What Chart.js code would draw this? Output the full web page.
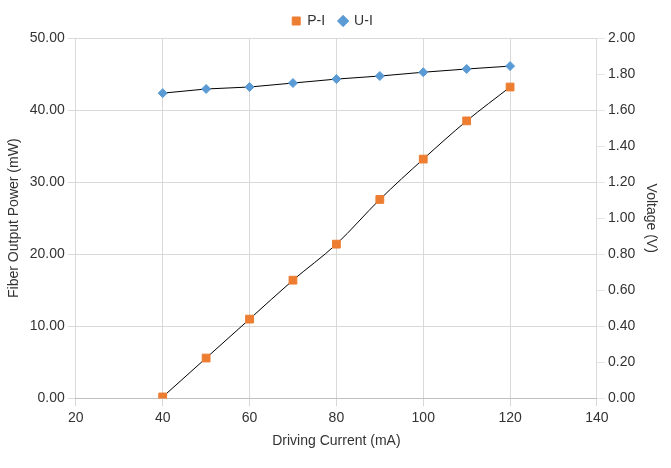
<!DOCTYPE html>
<html>
<head>
<script src="https://cdn.jsdelivr.net/npm/chart.js@4"></script>
<style>
  body { margin: 0; background: #fff; }
  #wrap { width: 671px; height: 468px; }
</style>
</head>
<body>
<div id="wrap"><canvas id="c"></canvas></div>
<script>
const current = [40, 50, 60, 70, 80, 90, 100, 110, 120];
const power = [0.2, 5.6, 11.0, 16.4, 21.4, 27.6, 33.2, 38.5, 43.2];
const voltage = [1.694, 1.717, 1.728, 1.750, 1.772, 1.789, 1.810, 1.828, 1.844];

const pts = (ys) => current.map((x, i) => ({ x: x, y: ys[i] }));
const font = { family: 'Arial, "Liberation Sans", sans-serif', size: 14 };

new Chart(document.getElementById("c"), {
  type: "line",
  data: {
    datasets: [{
      label: "P-I",
      data: pts(power),
      yAxisID: "y",
      borderColor: "#000",
      borderWidth: 1,
      backgroundColor: "#ed7d31",
      pointBackgroundColor: "#ed7d31",
      pointBorderColor: "#ed7d31",
      pointStyle: "rect",
      pointRadius: 5.5,
      cubicInterpolationMode: "monotone"
    }, {
      label: "U-I",
      data: pts(voltage),
      yAxisID: "y1",
      borderColor: "#000",
      borderWidth: 1,
      backgroundColor: "#5b9bd5",
      pointBackgroundColor: "#5b9bd5",
      pointBorderColor: "#5b9bd5",
      pointStyle: "rectRot",
      pointRadius: 4.5
    }]
  },
  options: {
    responsive: true,
    maintainAspectRatio: false,
    animation: false,
    layout: { padding: { left: 2, right: 8, top: 0, bottom: 14 } },
    plugins: {
      legend: {
        labels: { usePointStyle: true, boxWidth: 8, boxHeight: 8, color: "#333", font: font, padding: 14 }
      },
      tooltip: { enabled: false }
    },
    scales: {
      x: {
        type: "linear",
        min: 20, max: 140,
        ticks: { stepSize: 20, color: "#333", font: font },
        grid: { color: "#d9d9d9" },
        border: { color: "#bfbfbf" },
        title: { display: true, text: "Driving Current (mA)", color: "#333", font: font }
      },
      y: {
        position: "left",
        min: 0, max: 50,
        ticks: { stepSize: 10, color: "#333", font: font, callback: v => v.toFixed(2) },
        grid: { color: "#d9d9d9" },
        border: { display: false },
        title: { display: true, text: "Fiber Output Power (mW)", color: "#333", font: font }
      },
      y1: {
        position: "right",
        min: 0, max: 2,
        ticks: { stepSize: 0.2, color: "#333", font: font, callback: v => v.toFixed(2) },
        grid: { drawOnChartArea: false },
        border: { display: false },
        title: { display: true, text: "Voltage (V)", color: "#333", font: font }
      }
    }
  }
});
</script>
</body>
</html>
